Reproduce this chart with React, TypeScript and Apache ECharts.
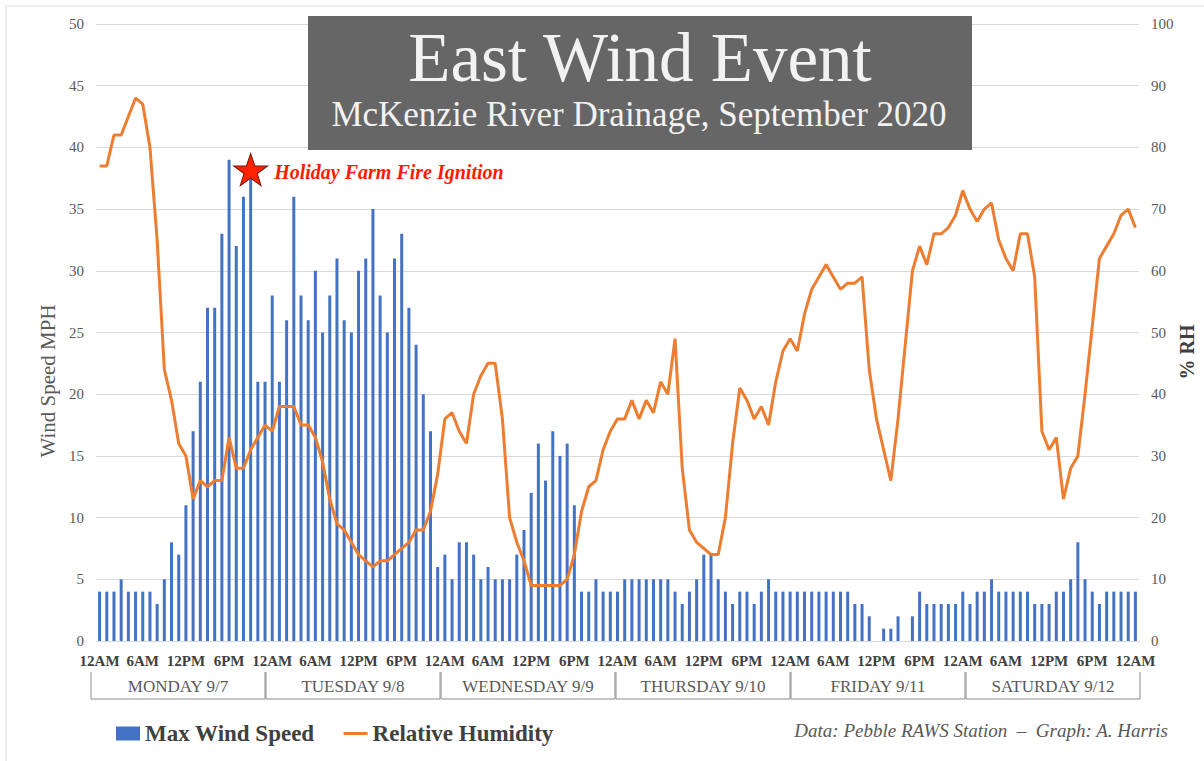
import React, { useEffect, useRef } from "react";
import * as echarts from "echarts";

// ---------- DATA ----------
const dayLabels = ["MONDAY 9/7", "TUESDAY 9/8", "WEDNESDAY 9/9", "THURSDAY 9/10", "FRIDAY 9/11", "SATURDAY 9/12"];
const hourTickLabels = ["12AM", "6AM", "12PM", "6PM"];

// Max wind speed (mph), hourly from 12AM Mon 9/7 to 12AM Sun 9/13
const windSpeed = [
  // Monday
  4, 4, 4, 5, 4, 4, 4, 4, 3, 5, 8, 7, 11, 17, 21, 27, 27, 33, 39, 32, 36, 38, 21, 21,
  // Tuesday
  28, 21, 26, 36, 28, 26, 30, 25, 28, 31, 26, 25, 30, 31, 35, 28, 25, 31, 33, 27, 24, 20, 17, 6,
  // Wednesday
  7, 5, 8, 8, 7, 5, 6, 5, 5, 5, 7, 9, 12, 16, 13, 17, 15, 16, 11, 4, 4, 5, 4, 4,
  // Thursday
  4, 5, 5, 5, 5, 5, 5, 5, 4, 3, 4, 5, 7, 7, 5, 4, 3, 4, 4, 3, 4, 5, 4, 4,
  // Friday
  4, 4, 4, 4, 4, 4, 4, 4, 4, 3, 3, 2, 0, 1, 1, 2, 0, 2, 4, 3, 3, 3, 3, 3,
  // Saturday
  4, 3, 4, 4, 5, 4, 4, 4, 4, 4, 3, 3, 3, 4, 4, 5, 8, 5, 4, 3, 4, 4, 4, 4,
  // 12AM Sunday
  4,
];

// Relative humidity (%)
const relHumidity = [
  // Monday
  77, 77, 82, 82, 85, 88, 87, 80, 65, 44, 39, 32, 30, 23, 26, 25, 26, 26, 33, 28, 28, 31, 33, 35,
  // Tuesday
  34, 38, 38, 38, 35, 35, 33, 29, 23, 19, 18, 16, 14, 13, 12, 13, 13, 14, 15, 16, 18, 18, 21, 27,
  // Wednesday
  36, 37, 34, 32, 40, 43, 45, 45, 36, 20, 16, 13, 9, 9, 9, 9, 9, 10, 14, 21, 25, 26, 31, 34,
  // Thursday
  36, 36, 39, 36, 39, 37, 42, 40, 49, 28, 18, 16, 15, 14, 14, 20, 32, 41, 39, 36, 38, 35, 42, 47,
  // Friday
  49, 47, 53, 57, 59, 61, 59, 57, 58, 58, 59, 44, 36, 31, 26, 36, 48, 60, 64, 61, 66, 66, 67, 69,
  // Saturday
  73, 70, 68, 70, 71, 65, 62, 60, 66, 66, 59, 34, 31, 33, 23, 28, 30, 40, 51, 62, 64, 66, 69, 70,
  // 12AM Sunday
  67,
];

const ignitionHour = 21;
const ignitionMarkerMph = 38.2;
const ignitionText = "Holiday Farm Fire Ignition";

const categories = windSpeed.map((_, i) => "h" + i);

const SERIF = "'Liberation Serif', 'Times New Roman', serif";
const STAR_PATH =
  "path://M50,0 L61.8,35.1 L98.1,35.1 L68.8,56.7 L79.4,91 L50,70 L20.6,91 L31.2,56.7 L1.9,35.1 L38.2,35.1 Z";
const LINE_ICON = "path://M0,0 L24,0 L24,3 L0,3 Z";

export default function App() {
  const ref = useRef<HTMLDivElement>(null);

  useEffect(() => {
    if (!ref.current) return;
    const chart = echarts.init(ref.current, undefined, { renderer: "svg" });

    const boxTop = 672;
    const boxBottom = 699;
    const boxElems: any[] = [];
    dayLabels.forEach((label, i) => {
      const left = 91 + 175 * i;
      const right = left + 174;
      boxElems.push({
        type: "polyline",
        z: 10,
        shape: { points: [[left, boxTop], [left, boxBottom], [right, boxBottom], [right, boxTop]] },
        style: { stroke: "#8c8c8c", lineWidth: 1, fill: null },
      });
      boxElems.push({
        type: "text",
        z: 10,
        x: (left + right) / 2,
        y: 686,
        style: {
          text: label,
          fill: "#595959",
          font: `17px ${SERIF}`,
          textAlign: "center",
          textVerticalAlign: "middle",
        },
      });
    });

    const option: any = {
      animation: false,
      backgroundColor: "#ffffff",
      grid: { left: 96, width: 1043, top: 24, bottom: 120, containLabel: false },
      legend: {
        left: 116,
        top: 722,
        padding: 0,
        itemWidth: 24,
        itemHeight: 14,
        itemGap: 29,
        textStyle: { fontFamily: SERIF, fontSize: 23, fontWeight: "bold", color: "#404040" },
        data: [
          { name: "Max Wind Speed", icon: "rect" },
          { name: "Relative Humidity", icon: LINE_ICON },
        ],
      },
      xAxis: {
        type: "category",
        data: categories,
        axisTick: { show: false },
        axisLine: { lineStyle: { color: "#d9d9d9", width: 1 } },
        axisLabel: {
          interval: 5,
          margin: 12,
          fontFamily: SERIF,
          fontSize: 15,
          fontWeight: "bold",
          color: "#404040",
          formatter: (_v: string, idx: number) => hourTickLabels[Math.floor((idx % 24) / 6)],
        },
      },
      yAxis: [
        {
          type: "value",
          min: 0,
          max: 50,
          interval: 5,
          axisLine: { show: false },
          axisTick: { show: false },
          splitLine: { lineStyle: { color: "#d9d9d9", width: 1 } },
          axisLabel: { margin: 12, fontFamily: SERIF, fontSize: 15, color: "#595959" },
        },
        {
          type: "value",
          min: 0,
          max: 100,
          interval: 10,
          position: "right",
          axisLine: { show: false },
          axisTick: { show: false },
          splitLine: { show: false },
          axisLabel: { margin: 12, fontFamily: SERIF, fontSize: 15, color: "#595959" },
        },
      ],
      series: [
        {
          name: "Max Wind Speed",
          type: "bar",
          yAxisIndex: 0,
          data: windSpeed,
          barWidth: 3,
          itemStyle: { color: "#4472c4" },
          markPoint: {
            symbol: STAR_PATH,
            symbolSize: [34, 32],
            itemStyle: { color: "#ff2200", borderColor: "#7a1500", borderWidth: 1 },
            label: {
              show: true,
              position: "right",
              distance: 6,
              formatter: ignitionText,
              fontFamily: SERIF,
              fontSize: 20,
              fontWeight: "bold",
              fontStyle: "italic",
              color: "#ff1a00",
              offset: [0, 2],
            },
            data: [{ coord: [categories[ignitionHour], ignitionMarkerMph] }],
          },
        },
        {
          name: "Relative Humidity",
          type: "line",
          yAxisIndex: 1,
          data: relHumidity,
          symbol: "none",
          showSymbol: false,
          lineStyle: { color: "#ed7d31", width: 3 },
          itemStyle: { color: "#ed7d31" },
          z: 3,
        },
      ],
      graphic: [
        {
          type: "rect",
          z: 1,
          silent: true,
          shape: { x: 6, y: 6, width: 1400, height: 1000 },
          style: { fill: null, stroke: "#d9d9d9", lineWidth: 1 },
        },
        {
          type: "rect",
          z: 20,
          shape: { x: 308, y: 16, width: 664, height: 134 },
          style: { fill: "#666666" },
        },
        {
          type: "text",
          z: 21,
          x: 640,
          y: 58,
          style: {
            text: "East Wind Event",
            fill: "#f2f2f2",
            font: `69px ${SERIF}`,
            textAlign: "center",
            textVerticalAlign: "middle",
          },
        },
        {
          type: "text",
          z: 21,
          x: 639,
          y: 114,
          style: {
            text: "McKenzie River Drainage, September 2020",
            fill: "#f2f2f2",
            font: `35px ${SERIF}`,
            textAlign: "center",
            textVerticalAlign: "middle",
          },
        },
        {
          type: "text",
          z: 10,
          x: 48,
          y: 381,
          rotation: Math.PI / 2,
          style: {
            text: "Wind Speed MPH",
            fill: "#595959",
            font: `21px ${SERIF}`,
            textAlign: "center",
            textVerticalAlign: "middle",
          },
        },
        {
          type: "text",
          z: 10,
          x: 1187,
          y: 352,
          rotation: Math.PI / 2,
          style: {
            text: "% RH",
            fill: "#404040",
            font: `bold 20px ${SERIF}`,
            textAlign: "center",
            textVerticalAlign: "middle",
          },
        },
        {
          type: "text",
          z: 10,
          x: 1168,
          y: 730,
          style: {
            text: "Data: Pebble RAWS Station \u00a0\u2013\u00a0 Graph: A. Harris",
            fill: "#595959",
            font: `italic 19px ${SERIF}`,
            textAlign: "right",
            textVerticalAlign: "middle",
          },
        },
        ...boxElems,
      ],
    };

    chart.setOption(option);
    return () => chart.dispose();
  }, []);

  return (
    <div
      ref={ref}
      style={{ position: "fixed", left: 0, top: 0, width: 1204, height: 761, background: "#fff" }}
    />
  );
}
